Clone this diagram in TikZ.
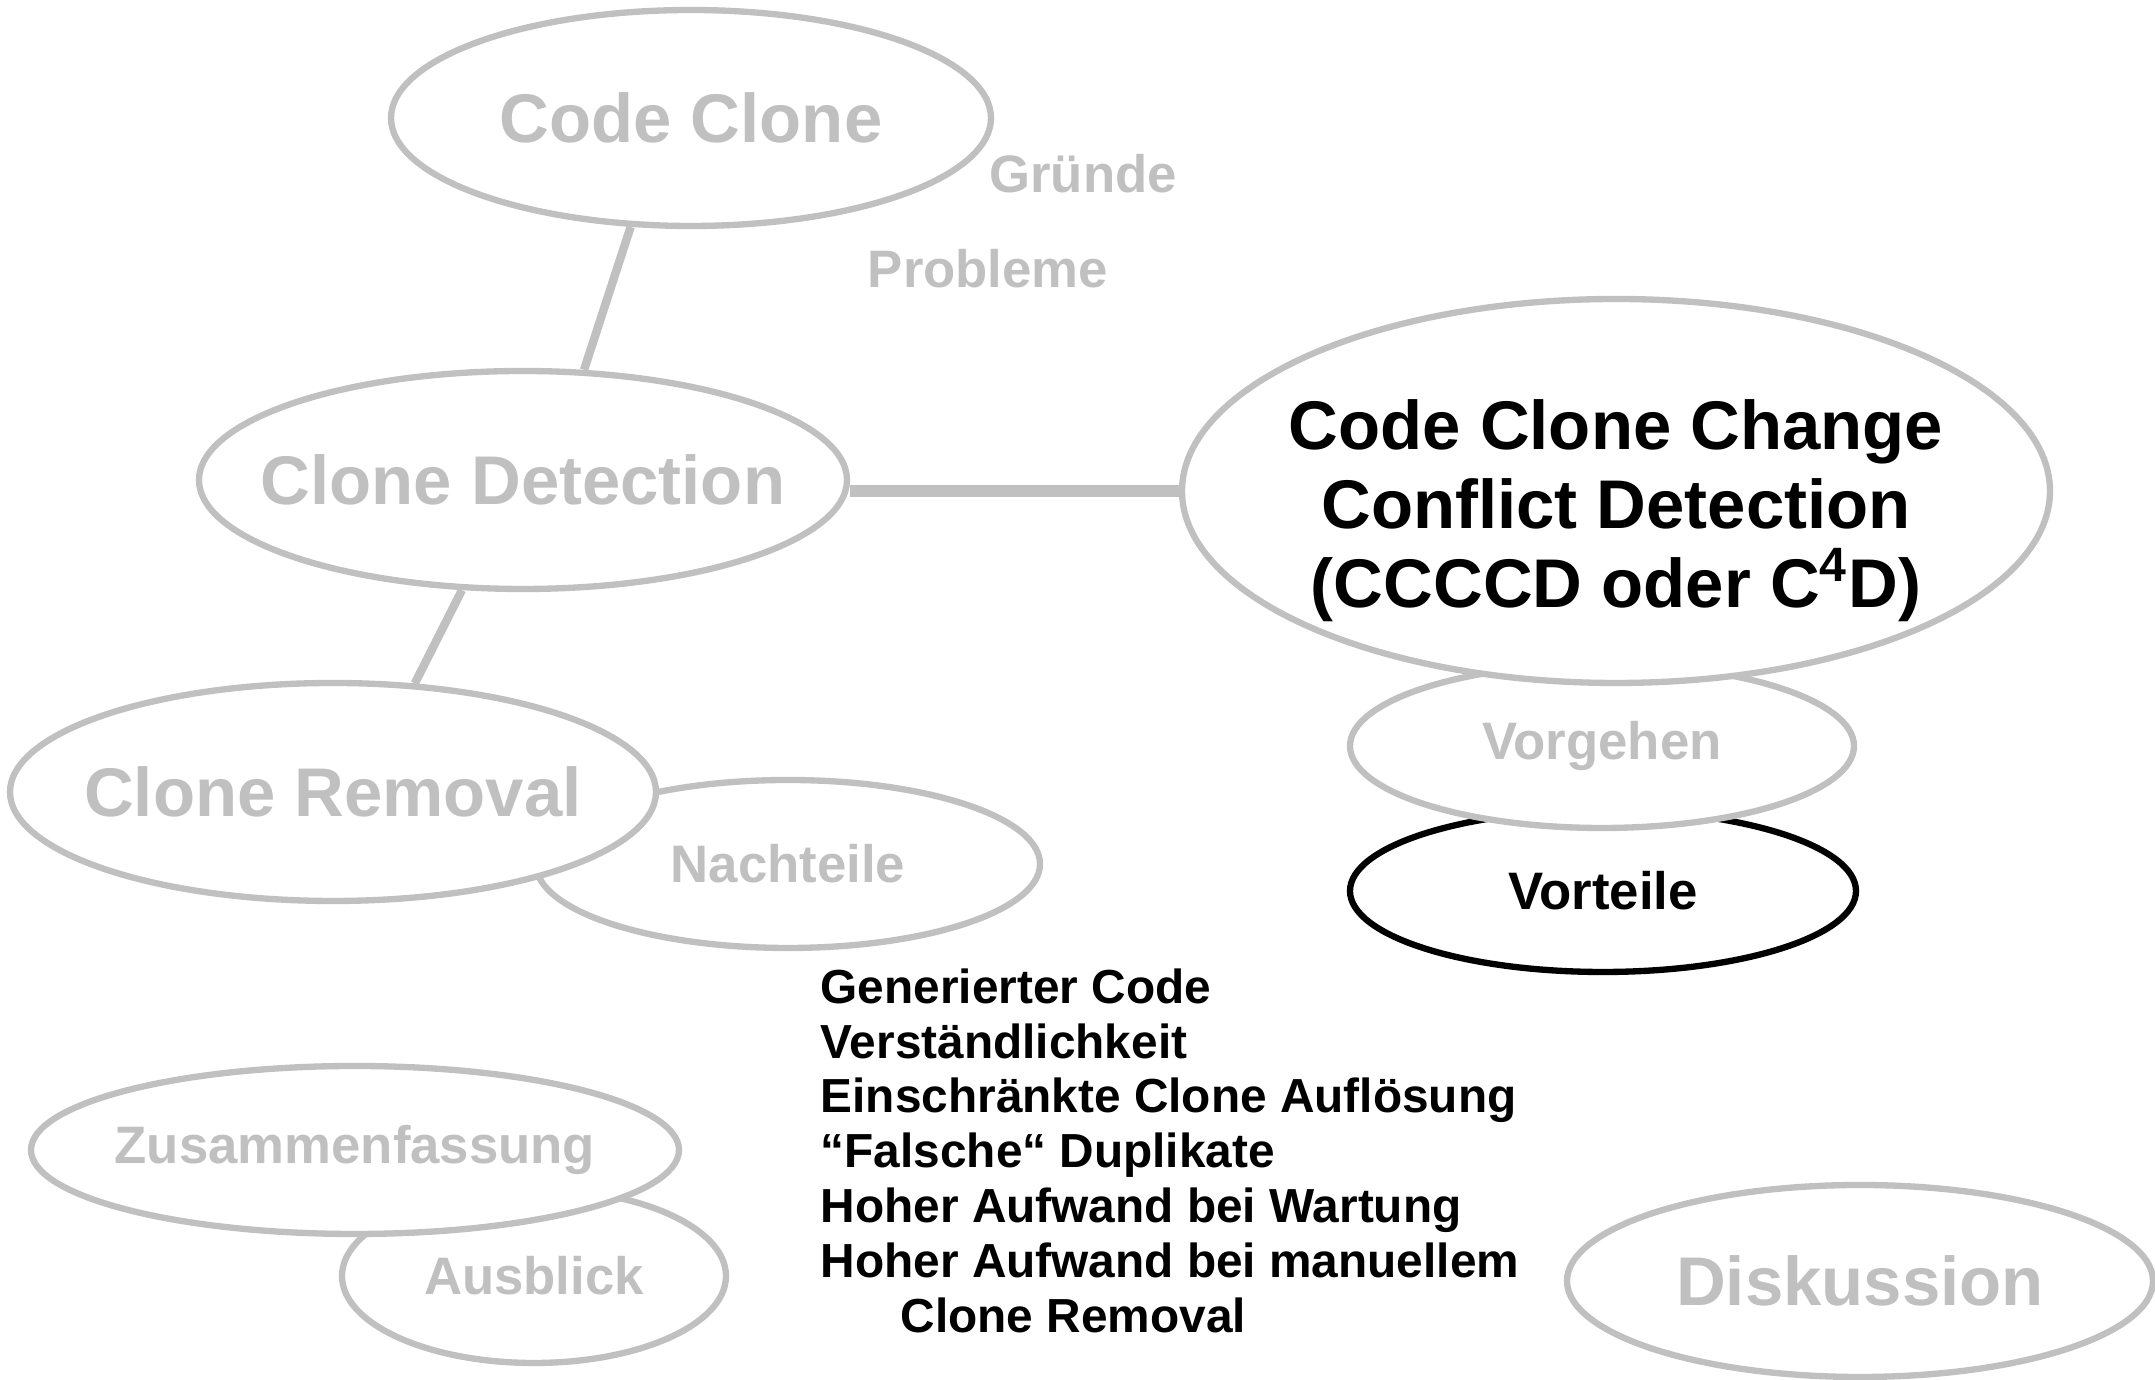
\documentclass[tikz,border=0pt]{standalone}
\usepackage{fontspec}
\setmainfont{Liberation Sans}
\usetikzlibrary{positioning,shapes.geometric}
\definecolor{lightgrey}{RGB}{192,192,192}

\begin{document}
\begin{tikzpicture}[
    topic/.style={ellipse,draw=lightgrey,fill=white,line width=1.8pt,inner ysep=0pt,inner xsep=-5mm,text=lightgrey,
        font=\fontsize{19.6}{22.5}\selectfont\bfseries},
    subtopic/.style={topic,font=\fontsize{15}{18}\selectfont\bfseries},
    link/.style={draw=lightgrey,line width=2.4pt}]
    \useasboundingbox (0,0) rectangle (21.55,13.80);

    \node[topic,minimum width=6cm,minimum height=2.16cm] (cc) at (6.91,12.62) {Code Clone};
    \node[text=lightgrey,font=\fontsize{15}{18}\selectfont\bfseries] (gruende) at (10.83,12.06) {Gründe};
    \node[text=lightgrey,font=\fontsize{15}{18}\selectfont\bfseries] (probleme) at (9.88,11.11) {Probleme};
    \node[topic,minimum width=6.48cm,minimum height=2.18cm] (cd) at (5.23,9.00) {Clone Detection};
    \node[subtopic,minimum width=5.04cm,minimum height=1.68cm] (nachteile) at (7.88,5.16) {Nachteile};
    \node[topic,minimum width=6.46cm,minimum height=2.18cm] (cr) at (3.33,5.88) {Clone Removal};

    \node[subtopic,draw=black,text=black,minimum width=5.06cm,minimum height=1.62cm] (vorteile) at (16.03,4.89) {Vorteile};
    \node[subtopic,minimum width=5.04cm,minimum height=1.64cm] (vorgehen) at (16.02,6.34) {Vorgehen};
    \node[topic,minimum width=8.68cm,minimum height=3.84cm] (c4d) at (16.16,8.89) {};
    \node[align=center,font=\fontsize{19.6}{22.5}\selectfont\bfseries] (c4dtext) at ([yshift=-2mm]c4d.center)
        {Code Clone Change\\Conflict Detection\\(CCCCD oder C\textsuperscript{4}D)};

    \node[subtopic,minimum width=3.84cm,minimum height=1.74cm] (ausblick) at (5.34,1.04) {Ausblick};
    \node[subtopic,minimum width=6.48cm,minimum height=1.68cm] (zusammen) at (3.55,2.30) {Zusammenfassung};
    \node[topic,minimum width=5.86cm,minimum height=1.92cm] (diskussion) at (18.60,0.99) {Diskussion};

    \node[anchor=north west,align=left,inner sep=0pt,font=\fontsize{13.6}{15.6}\selectfont\bfseries] (liste) at (8.20,4.12)
        {Generierter Code\\Verständlichkeit\\Einschränkte Clone Auflösung\\“Falsche“ Duplikate\\
         Hoher Aufwand bei Wartung\\Hoher Aufwand bei manuellem\\\hspace*{0.8cm}Clone Removal};

    \draw[link] (cc.241) -- (cd.61);
    \draw[link] (cd.241) -- (cr.53);
    \draw[link,line width=3.2pt] (c4d.west) -- (c4d.west -| cd.east);
\end{tikzpicture}
\end{document}
